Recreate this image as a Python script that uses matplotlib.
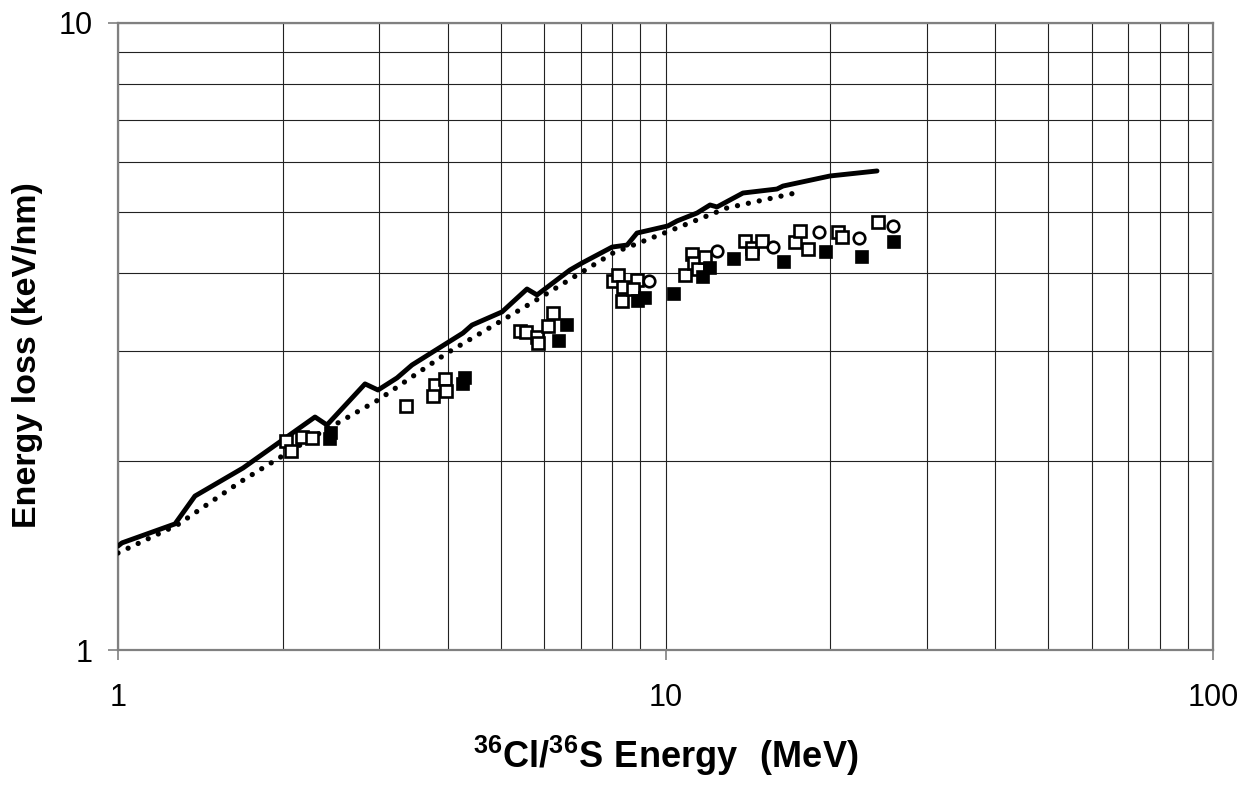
import matplotlib
matplotlib.use("Agg")
import matplotlib.pyplot as plt
from matplotlib.ticker import LogLocator, FixedLocator, NullFormatter

plt.rcParams["font.family"] = ["Liberation Sans", "DejaVu Sans"]
plt.rcParams["mathtext.fontset"] = "custom"
plt.rcParams["mathtext.rm"] = "Liberation Sans"
plt.rcParams["mathtext.bf"] = "Liberation Sans:bold"

# ── DATA ───────────────────────────────────────────────────────

# calculated stopping curve (solid)
calc_E  = [1.0, 1.017, 1.271, 1.382, 1.692, 2.290, 2.408, 2.826, 2.985, 3.233,
           3.443, 4.267, 4.432, 5.028, 5.585, 5.826, 6.69, 7.04, 7.99, 8.51,
           8.87, 10.1, 10.5, 11.42, 12.06, 12.42, 13.85, 15.98, 16.39, 19.98, 24.34]
calc_dE = [1.465, 1.482, 1.589, 1.760, 1.951, 2.353, 2.285, 2.657, 2.598, 2.716,
           2.848, 3.203, 3.298, 3.461, 3.765, 3.684, 4.037, 4.142, 4.392, 4.425,
           4.624, 4.746, 4.834, 4.977, 5.126, 5.089, 5.356, 5.435, 5.495, 5.702, 5.808]

# second calculation (dotted)
alt_E  = [1.0, 1.282, 1.671, 2.271, 2.985, 3.990, 5.728, 8.02, 10.06, 12.95, 17.61]
alt_dE = [1.428, 1.582, 1.853, 2.186, 2.504, 2.976, 3.589, 4.297, 4.642, 5.070, 5.377]

# measured points, open squares
open_sq_E  = [2.027, 2.070, 2.168, 2.262, 3.357, 3.793, 3.761, 3.956, 3.973,
              5.424, 5.563, 5.826, 5.850, 6.100, 6.230,
              8.02, 8.19, 8.36, 8.33, 8.87, 8.72,
              10.85, 11.18, 11.27, 11.47, 11.81,
              13.97, 14.39, 14.39, 15.01, 17.24, 17.61, 18.21, 20.66, 21.01, 24.44]
open_sq_dE = [2.154, 2.077, 2.186, 2.178, 2.449, 2.647, 2.542, 2.706, 2.589,
              3.226, 3.214, 3.156, 3.087, 3.287, 3.448,
              3.877, 3.963, 3.793, 3.604, 3.892, 3.765,
              3.963, 4.281, 4.142, 4.052, 4.235,
              4.490, 4.377, 4.297, 4.490, 4.473, 4.659, 4.361, 4.642, 4.557, 4.816]

# measured points, filled squares
fill_sq_E  = [2.449, 2.439, 4.303, 4.267, 6.607, 6.39, 8.91, 9.18, 10.36,
              11.71, 12.06, 13.34, 16.46, 19.64, 22.85, 26.15]
fill_sq_dE = [2.218, 2.170, 2.716, 2.657, 3.298, 3.111, 3.604, 3.643, 3.697,
              3.934, 4.067, 4.203, 4.157, 4.313, 4.235, 4.473]

# measured points, open circles
circ_E  = [9.33, 12.42, 15.72, 19.07, 22.56, 26.04]
circ_dE = [3.877, 4.328, 4.392, 4.642, 4.541, 4.746]

# ── PLOT ───────────────────────────────────────────────────────

fig = plt.figure(figsize=(12.54, 7.87), dpi=100)
ax = fig.add_axes([118 / 1254, 1 - 650 / 787, 1095 / 1254, 627 / 787])

ax.set_xscale("log")
ax.set_yscale("log")
ax.set_xlim(1, 100)
ax.set_ylim(1, 10)

# grid on every decade subdivision
ax.xaxis.set_major_locator(FixedLocator([1, 10, 100]))
ax.yaxis.set_major_locator(FixedLocator([1, 10]))
ax.xaxis.set_minor_locator(LogLocator(base=10, subs=range(2, 10)))
ax.yaxis.set_minor_locator(LogLocator(base=10, subs=range(2, 10)))
ax.xaxis.set_minor_formatter(NullFormatter())
ax.yaxis.set_minor_formatter(NullFormatter())
ax.set_xticklabels(["1", "10", "100"])
ax.set_yticklabels(["1", "10"])
ax.grid(True, which="both", color="#222222", linewidth=0.8, zorder=0)
ax.set_axisbelow(True)

ax.tick_params(which="major", direction="out", length=7, width=1.2,
               color="#808080", labelsize=22)
ax.tick_params(axis="x", which="major", pad=17)
ax.tick_params(axis="y", which="major", pad=11)
ax.tick_params(which="minor", length=0)

for sp in ax.spines.values():
    sp.set_color("#808080")
    sp.set_linewidth(1.6)

ax.plot(calc_E, calc_dE, color="black", linewidth=3.5,
        solid_joinstyle="round", solid_capstyle="round", zorder=3)
ax.plot(alt_E, alt_dE, color="black", linewidth=3.8,
        linestyle=(0, (0.01, 2.1)), dash_capstyle="round", zorder=3)

ax.plot(open_sq_E, open_sq_dE, linestyle="none", marker="s", markersize=8.3,
        markerfacecolor="white", markeredgecolor="black",
        markeredgewidth=1.9, zorder=4)
ax.plot(fill_sq_E, fill_sq_dE, linestyle="none", marker="s", markersize=8.3,
        markerfacecolor="black", markeredgecolor="black",
        markeredgewidth=1.2, zorder=4)
ax.plot(circ_E, circ_dE, linestyle="none", marker="o", markersize=8.3,
        markerfacecolor="white", markeredgecolor="black",
        markeredgewidth=1.9, zorder=4)

fig.text(666 / 1254, 1 - 756 / 787,
         r"$\mathbf{^{36}Cl/^{36}S\ Energy\ \ (MeV)}$",
         fontsize=26, ha="center", va="center")
fig.text(28 / 1254, 1 - 355 / 787, "Energy loss (keV/nm)",
         fontsize=24.5, fontweight="bold", rotation=90,
         ha="center", va="center")

fig.savefig("out.png", dpi=100)
